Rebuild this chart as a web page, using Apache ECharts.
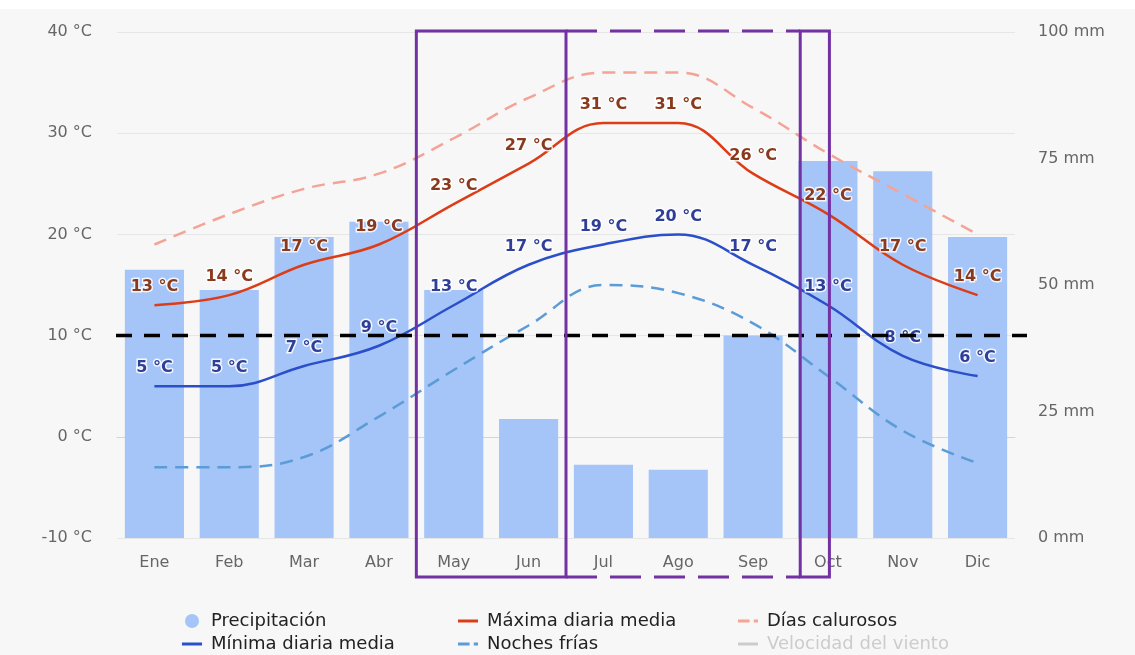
<!DOCTYPE html>
<html><head><meta charset="utf-8">
<script src="https://cdn.jsdelivr.net/npm/echarts@6/dist/echarts.min.js"></script>
<style>
html,body{margin:0;padding:0;background:#fff;}
#bg{position:absolute;left:0;top:9px;width:1135px;height:646px;background:#f7f7f7;}
#chart{position:absolute;left:0;top:0;width:1135px;height:655px;}
</style></head>
<body><div id="bg"></div><div id="chart"></div>
<script>
const months = ['Ene','Feb','Mar','Abr','May','Jun','Jul','Ago','Sep','Oct','Nov','Dic'];
const precipitacion = [53, 49, 59.5, 62.5, 49, 23.5, 14.5, 13.5, 40, 74.5, 72.5, 59.5];
const maxima = [13, 14, 17, 19, 23, 27, 31, 31, 26, 22, 17, 14];
const minima = [5, 5, 7, 9, 13, 17, 19, 20, 17, 13, 8, 6];
const diasCalurosos = [19, 22, 24.5, 26, 29.5, 33.5, 36, 36, 32.5, 28, 24, 20];
const nochesFrias = [-3, -3, -2, 2, 6.6, 11, 15, 14.2, 11.2, 6, 0.6, -2.6];
const viento = [];
const tempTicks = {min: -10, max: 40, interval: 10};
const rainTicks = {min: 0, max: 100, interval: 25};

const FONT = 'DejaVu Sans';
const C_BAR = '#a5c4f7', C_MAX = '#dc3d17', C_MIN = '#2b4ec9', C_HOT = '#f3a496', C_COLD = '#5b9cd6';
const SOLID = 'path://M0,0H20V3H0Z';
const DASHED = 'path://M0,0H11V3H0Z M15,0H19V3H15Z';

const chart = echarts.init(document.getElementById('chart'));

const labelBase = {
  show: true, position: 'top', distance: 10, fontSize: 16, fontWeight: 'bold', fontFamily: FONT,
  textBorderColor: 'rgba(255,255,255,0.85)', textBorderWidth: 3,
  formatter: p => p.value + ' °C'
};
const legendBase = {
  orient: 'vertical', top: 607, height: 120, width: 260, itemWidth: 20, itemHeight: 14, itemGap: 5,
  inactiveColor: '#cccccc',
  textStyle: {fontSize: 18, color: '#222', fontFamily: FONT, padding: [0, 0, 0, 4]}
};

const option = {
  animation: false,
  backgroundColor: 'transparent',
  textStyle: {fontFamily: FONT},
  grid: {left: 117, right: 120, top: 32, bottom: 117},
  xAxis: {
    type: 'category', data: months,
    axisTick: {show: false},
    axisLine: {lineStyle: {color: '#ccd6eb'}},
    axisLabel: {color: '#666', fontSize: 16, margin: 17, fontFamily: FONT}
  },
  yAxis: [
    {type: 'value', min: tempTicks.min, max: tempTicks.max, interval: tempTicks.interval,
     axisLabel: {formatter: '{value} °C', color: '#666', fontSize: 16, margin: 25, fontFamily: FONT},
     axisLine: {show: false}, axisTick: {show: false},
     splitLine: {lineStyle: {color: '#e6e6e6'}}},
    {type: 'value', min: rainTicks.min, max: rainTicks.max, interval: rainTicks.interval, position: 'right',
     axisLabel: {formatter: '{value} mm', color: '#666', fontSize: 16, margin: 23, fontFamily: FONT},
     axisLine: {show: false}, axisTick: {show: false}, splitLine: {show: false}}
  ],
  legend: [
    Object.assign({}, legendBase, {left: 177, data: [
      {name: 'Precipitación', icon: 'circle'}, {name: 'Mínima diaria media', icon: SOLID}]}),
    Object.assign({}, legendBase, {left: 453, data: [
      {name: 'Máxima diaria media', icon: SOLID}, {name: 'Noches frías', icon: DASHED}]}),
    Object.assign({}, legendBase, {left: 733, selected: {'Velocidad del viento': false}, data: [
      {name: 'Días calurosos', icon: DASHED}, {name: 'Velocidad del viento', icon: SOLID}]})
  ],
  series: [
    {name: 'Precipitación', type: 'bar', yAxisIndex: 1, data: precipitacion, barWidth: '79%',
     itemStyle: {color: C_BAR}, z: 1},
    {name: 'Días calurosos', type: 'line', data: diasCalurosos, smooth: 0.4, symbol: 'none',
     lineStyle: {color: C_HOT, width: 2.5, type: [13, 8]}, itemStyle: {color: C_HOT}, z: 3},
    {name: 'Noches frías', type: 'line', data: nochesFrias, smooth: 0.4, symbol: 'none',
     lineStyle: {color: C_COLD, width: 2.5, type: [13, 8]}, itemStyle: {color: C_COLD}, z: 3},
    {name: 'Máxima diaria media', type: 'line', data: maxima, smooth: 0.4, symbol: 'circle', symbolSize: 0,
     lineStyle: {color: C_MAX, width: 2.5}, itemStyle: {color: C_MAX},
     label: Object.assign({}, labelBase, {color: '#8a3a1c'}), z: 5},
    {name: 'Mínima diaria media', type: 'line', data: minima, smooth: 0.4, symbol: 'circle', symbolSize: 0,
     lineStyle: {color: C_MIN, width: 2.5}, itemStyle: {color: C_MIN},
     label: Object.assign({}, labelBase, {color: '#2f3f98'}), z: 5},
    {name: 'Velocidad del viento', type: 'line', data: viento, symbol: 'none',
     lineStyle: {color: '#aaaaaa', width: 2.5}, itemStyle: {color: '#aaaaaa'}}
  ]
};
chart.setOption(option);

// Annotation overlay (purple boxes and 10 °C dashed line), placed via the axes
const px = i => chart.convertToPixel({xAxisIndex: 0}, i);
const py = v => chart.convertToPixel({yAxisIndex: 0}, v);
const bw = px(1) - px(0);
const gl = px(0) - bw / 2, gr = px(11) + bw / 2;
const yTop = py(40) - 1, yBot = py(-10) + 39, y10 = py(10);
const x1 = px(4) - bw / 2, x2 = px(5) + bw / 2, x3 = px(9) - 0.37 * bw, x4 = px(9) + 0.02 * bw;
const PURPLE = '#7232a3';
const seg = (ax, ay, bx, by, dash) => ({
  type: 'line', z: 100, silent: true,
  shape: {x1: ax, y1: ay, x2: bx, y2: by},
  style: {stroke: PURPLE, lineWidth: 3, lineDash: dash || null}
});
chart.setOption({graphic: [
  {type: 'line', z: 99, silent: true, shape: {x1: gl - 1, y1: y10, x2: gr + 12, y2: y10},
   style: {stroke: '#000', lineWidth: 3.5, lineDash: [16, 12]}},
  {type: 'rect', z: 100, silent: true, shape: {x: x1, y: yTop, width: x2 - x1, height: yBot - yTop},
   style: {fill: null, stroke: PURPLE, lineWidth: 3}},
  seg(x2, yTop, x3, yTop, [31, 13]),
  seg(x2, yBot, x3, yBot, [31, 13]),
  {type: 'rect', z: 100, silent: true, shape: {x: x3, y: yTop, width: x4 - x3, height: yBot - yTop},
   style: {fill: null, stroke: PURPLE, lineWidth: 3}}
]});
</script>
</body></html>
